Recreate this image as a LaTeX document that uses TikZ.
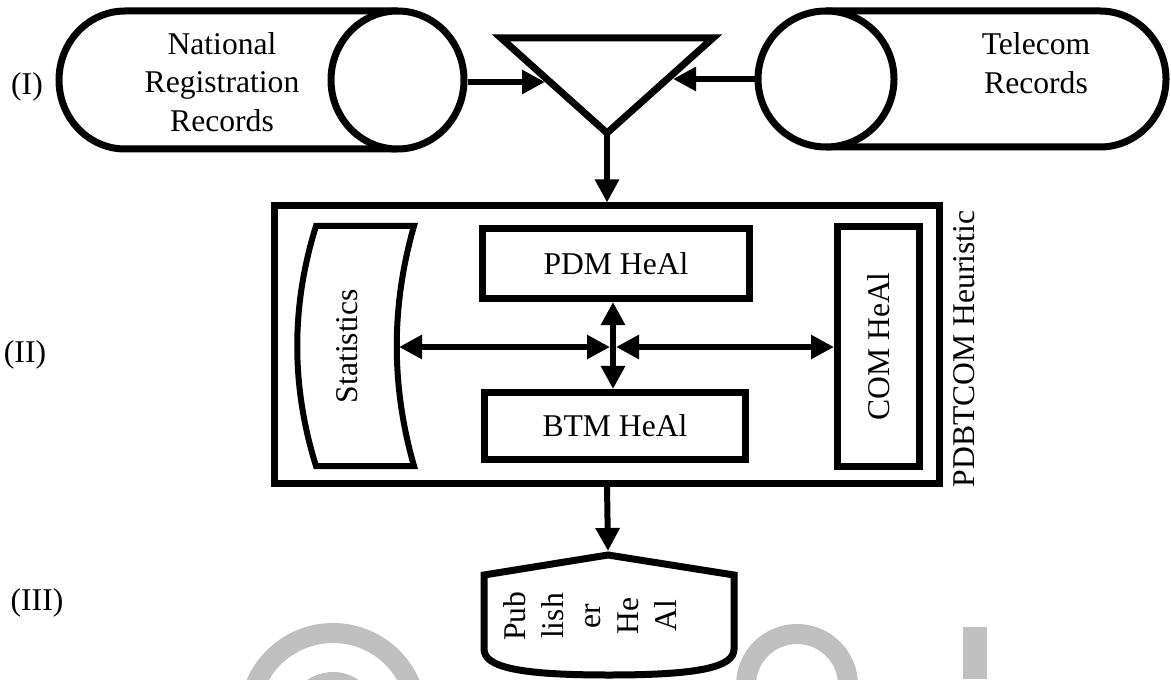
\documentclass[tikz,border=0pt]{standalone}
\usepackage{fontspec}
\setmainfont{Liberation Serif}
\usetikzlibrary{arrows.meta, positioning, calc}

\tikzset{
  shapeline/.style={line width=1.4mm, line join=miter},
  box/.style={draw, shapeline, inner sep=0pt},
  flow/.style={line width=1.2mm, -{Triangle[length=4.6mm, width=4.6mm]}},
  biflow/.style={line width=1.2mm, {Triangle[length=4.6mm, width=4.6mm]}-{Triangle[length=4.6mm, width=4.6mm]}},
  lbl/.style={font=\fontsize{18}{22}\selectfont, align=center, inner sep=0pt},
  watermark/.style={draw=black!25, line width=4mm}
}

\begin{document}
\begin{tikzpicture}[x=0.2mm, y=0.2mm]
    \clip (0,0) rectangle (1171,679);
    % watermark
    \draw[watermark] (333,-38) circle [radius=84];
    \draw[watermark] (333,-38) circle [radius=35];
    \draw[watermark] (797,-6) circle [radius=51];
    \fill[black!25] (963,0) rectangle (987,52);
    % stage labels
    \node[lbl] (stage1) at (27,592) {(I)};
    \node[lbl] (stage2) at (25,324) {(II)};
    \node[lbl] (stage3) at (37,76) {(III)};
    % input records
    \draw[shapeline] (397,668) -- (125,668)
      arc[start angle=90, end angle=270, x radius=66, y radius=69] -- (397,530);
    \draw[shapeline, fill=white] (397.5,599) ellipse [x radius=66.5, y radius=69];
    \node[lbl] (nrr) at (222,597) {National\\Registration\\Records};
    \coordinate (nrr-out) at (468,597);
    \draw[shapeline] (826,668) -- (1100,668)
      arc[start angle=90, end angle=-90, x radius=66, y radius=68] -- (826,532);
    \draw[shapeline, fill=white] (826,600) ellipse [x radius=68, y radius=68];
    \node[lbl] (tel) at (1036,616) {Telecom\\Records};
    \coordinate (tel-out) at (755,600);
    % merge
    \draw[shapeline] (501,641) -- (713,641) -- (607,546) -- cycle;
    \coordinate (trileft) at (545,597);
    \coordinate (triright) at (673,600);
    \coordinate (tribot) at (607,546);
    \draw[flow] (nrr-out) -- (trileft);
    \draw[flow] (tel-out) -- (triright);
    % heuristic frame
    \node[box, minimum width=132.8mm, minimum height=55.4mm] (heur) at (607,334.5) {};
    \node[lbl, rotate=90, anchor=south] (heurlbl) at (975,330) {PDBTCOM Heuristic};
    \draw[flow] (tribot) -- (heur.north);
    \node[box, lbl, minimum width=53.4mm, minimum height=14mm] (pdm) at (616,415.5) {PDM HeAl};
    \node[box, lbl, minimum width=52.2mm, minimum height=13.4mm] (btm) at (615,253) {BTM HeAl};
    \node[box, lbl, minimum width=16.4mm, minimum height=48mm] (com) at (878.5,332.5) {};
    \node[lbl, rotate=90] (comlbl) at (com.center) {COM HeAl};
    \draw[shapeline, line width=1.2mm] (316,453) -- (414,453)
      .. controls (391,373) and (391,293) .. (414,213) -- (316,213)
      .. controls (291,293) and (291,373) .. (316,453) -- cycle;
    \node[lbl, rotate=90] (stats) at (347,333) {Statistics};
    \coordinate (stats-e) at (399,332);
    \coordinate (hub) at (613,332);
    \draw[biflow] (stats-e) -- ([xshift=-0.6mm]hub);
    \draw[biflow] ([xshift=0.6mm]hub) -- (com.west |- hub);
    \draw[biflow] (hub |- pdm.south) -- (hub |- btm.north);
    % publisher
    \draw[shapeline] (608,124) -- (734,104) -- (734,30)
      .. controls (734,12) and (700,4) .. (609,4)
      .. controls (518,4) and (484,12) .. (484,30) -- (484,104) -- cycle;
    \coordinate (pubtop) at (608,128);
    \node[lbl, rotate=90, font=\fontsize{18}{21.5}\selectfont] (pub) at (590,63) {Pub\\lish\\er\\He\\Al};
    \draw[flow] (heur.south) -- (pubtop);
\end{tikzpicture}
\end{document}
